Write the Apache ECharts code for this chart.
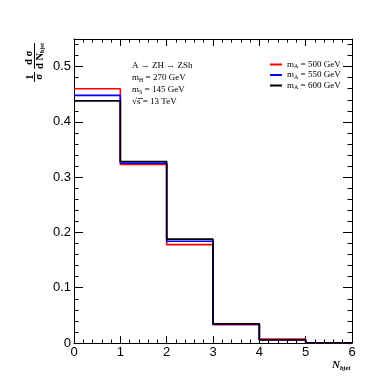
<!DOCTYPE html>
<html>
<head>
<meta charset="utf-8">
<script src="https://cdn.jsdelivr.net/npm/echarts@6/dist/echarts.min.js"></script>
<style>html,body{margin:0;padding:0;background:#fff;}#c{width:391px;height:382px;}</style>
</head>
<body>
<div id="c"></div>
<script>
// ---- data ----
const binEdges = [0, 1, 2, 3, 4, 5, 6];
const massLabels = ['500', '550', '600'];
const seriesColors = ['#ff0000', '#0000ff', '#000000'];
const valsMA500 = [0.460, 0.323, 0.178, 0.033, 0.007, 0.0005];
const valsMA550 = [0.448, 0.3255, 0.184, 0.034, 0.006, 0.0005];
const valsMA600 = [0.438, 0.3285, 0.188, 0.0348, 0.0054, 0.0005];
const xTicks = [0, 1, 2, 3, 4, 5, 6];
const yTicks = [0, 0.1, 0.2, 0.3, 0.4, 0.5];
const infoLines = [
  '{t|A \u2192 ZH \u2192 ZSh}',
  '{t|m}{s|H}{t| = 270 GeV}',
  '{t|m}{s|S}{t| = 145 GeV}',
  '{t|\u221As = 13 TeV}'
];

const allVals = [valsMA500, valsMA550, valsMA600];
const serif = '"Liberation Serif", "DejaVu Serif", serif';
const sans = '"Liberation Sans", Arial, sans-serif';

function stepData(vals) {
  return binEdges.map((e, i) => [e, vals[Math.min(i, vals.length - 1)]]);
}

const chart = echarts.init(document.getElementById('c'), null, {renderer: 'canvas'});

const grid = {left: 74, right: 39, top: 39, bottom: 39, containLabel: false};
const xMin = xTicks[0], xMax = xTicks[xTicks.length - 1];
const yMin = 0, yMax = 0.55;

function xAx(pos, interval, len, labels, line) {
  return {
    type: 'value', position: pos, min: xMin, max: xMax, interval: interval,
    axisLine: {show: line, onZero: false, lineStyle: {color: '#000', width: 1}},
    axisTick: {show: true, inside: true, length: len, lineStyle: {color: '#000', width: 1}},
    axisLabel: {show: labels, color: '#000', fontFamily: sans, fontSize: 13, margin: 3},
    splitLine: {show: false}
  };
}
function yAx(pos, interval, len, labels, line) {
  return {
    type: 'value', position: pos, min: yMin, max: yMax, interval: interval,
    axisLine: {show: line, onZero: false, lineStyle: {color: '#000', width: 1}},
    axisTick: {show: true, inside: true, length: len, lineStyle: {color: '#000', width: 1}},
    axisLabel: {show: labels, color: '#000', fontFamily: sans, fontSize: 13, margin: 3,
      showMaxLabel: false,
      formatter: v => (yTicks.some(t => Math.abs(t - v) < 1e-9) ? String(+v.toFixed(2)) : '')},
    splitLine: {show: false}
  };
}

const series = allVals.map((vals, i) => ({
  name: 'm_A = ' + massLabels[i] + ' GeV',
  type: 'line',
  step: 'end',
  xAxisIndex: 0, yAxisIndex: 0,
  data: stepData(vals),
  showSymbol: false,
  symbol: 'none',
  lineStyle: {color: seriesColors[i], width: 1.6},
  itemStyle: {color: seriesColors[i]},
  z: 3 + i,
  animation: false
}));

const infoGraphics = infoLines.map((txt, i) => ({
  type: 'text', left: 132, top: [61, 73, 85, 97][i],
  style: {
    text: txt, fill: '#000',
    rich: {
      t: {fontFamily: serif, fontSize: 9, lineHeight: 12, fill: '#000'},
      s: {fontFamily: serif, fontSize: 6, lineHeight: 6, verticalAlign: 'bottom', fill: '#000'}
    }
  }
}));

const sqrtBar = {
  type: 'line', shape: {x1: 138, y1: 98.5, x2: 143, y2: 98.5},
  style: {stroke: '#000', lineWidth: 0.7}
};

const tStyle = {fontFamily: serif, fontWeight: 'bold', fontSize: 10.5, fill: '#000', align: 'center', verticalAlign: 'middle'};
const yTitle = {
  type: 'group', x: 34.5, y: 83, rotation: Math.PI / 2,
  children: [
    {type: 'text', x: 6, y: -4.5, style: Object.assign({text: '1'}, tStyle)},
    {type: 'line', shape: {x1: 1, y1: 0, x2: 11, y2: 0}, style: {stroke: '#000', lineWidth: 1}},
    {type: 'text', x: 6, y: 4.5, style: Object.assign({text: '\u03c3'}, tStyle)},
    {type: 'text', x: 25, y: -5, style: Object.assign({text: 'd \u03c3'}, tStyle)},
    {type: 'line', shape: {x1: 14, y1: 0, x2: 40, y2: 0}, style: {stroke: '#000', lineWidth: 1}},
    {type: 'text', x: 27, y: 5.5, style: {
      text: '{d|d N}{s|bjet}', align: 'center', verticalAlign: 'middle',
      rich: {
        d: {fontFamily: serif, fontWeight: 'bold', fontSize: 10.5, lineHeight: 11, fill: '#000'},
        s: {fontFamily: serif, fontWeight: 'bold', fontSize: 6, lineHeight: 5, verticalAlign: 'bottom', fill: '#000'}
      }
    }}
  ]
};

const xTitle = {
  type: 'text', left: 332, top: 360,
  style: {
    text: '{n|N}{s|bjet}',
    rich: {
      n: {fontFamily: serif, fontStyle: 'italic', fontWeight: 'bold', fontSize: 11, lineHeight: 12, fill: '#000'},
      s: {fontFamily: serif, fontStyle: 'italic', fontWeight: 'bold', fontSize: 7, lineHeight: 6, verticalAlign: 'bottom', fill: '#000'}
    }
  }
};

chart.setOption({
  animation: false,
  backgroundColor: '#fff',
  grid: grid,
  xAxis: [
    xAx('bottom', 1, 7, true, true),
    xAx('bottom', 0.2, 3.5, false, false),
    xAx('top', 1, 7, false, true),
    xAx('top', 0.2, 3.5, false, false)
  ],
  yAxis: [
    yAx('left', 0.1, 9, true, true),
    yAx('left', 0.02, 4.5, false, false),
    yAx('right', 0.1, 9, false, true),
    yAx('right', 0.02, 4.5, false, false)
  ],
  legend: {
    orient: 'vertical', left: 265, top: 55, itemWidth: 12, itemHeight: 2, itemGap: 1,
    icon: 'rect',
    data: series.map(s => s.name),
    formatter: name => '{t|m}{s|A}{t|' + name.slice(3) + '}',
    textStyle: {
      rich: {
        t: {fontFamily: serif, fontSize: 9, lineHeight: 10, color: '#000'},
        s: {fontFamily: serif, fontSize: 6, lineHeight: 5, verticalAlign: 'bottom', color: '#000'}
      }
    }
  },
  graphic: [...infoGraphics, sqrtBar, yTitle, xTitle],
  series: series
});
</script>
</body>
</html>
